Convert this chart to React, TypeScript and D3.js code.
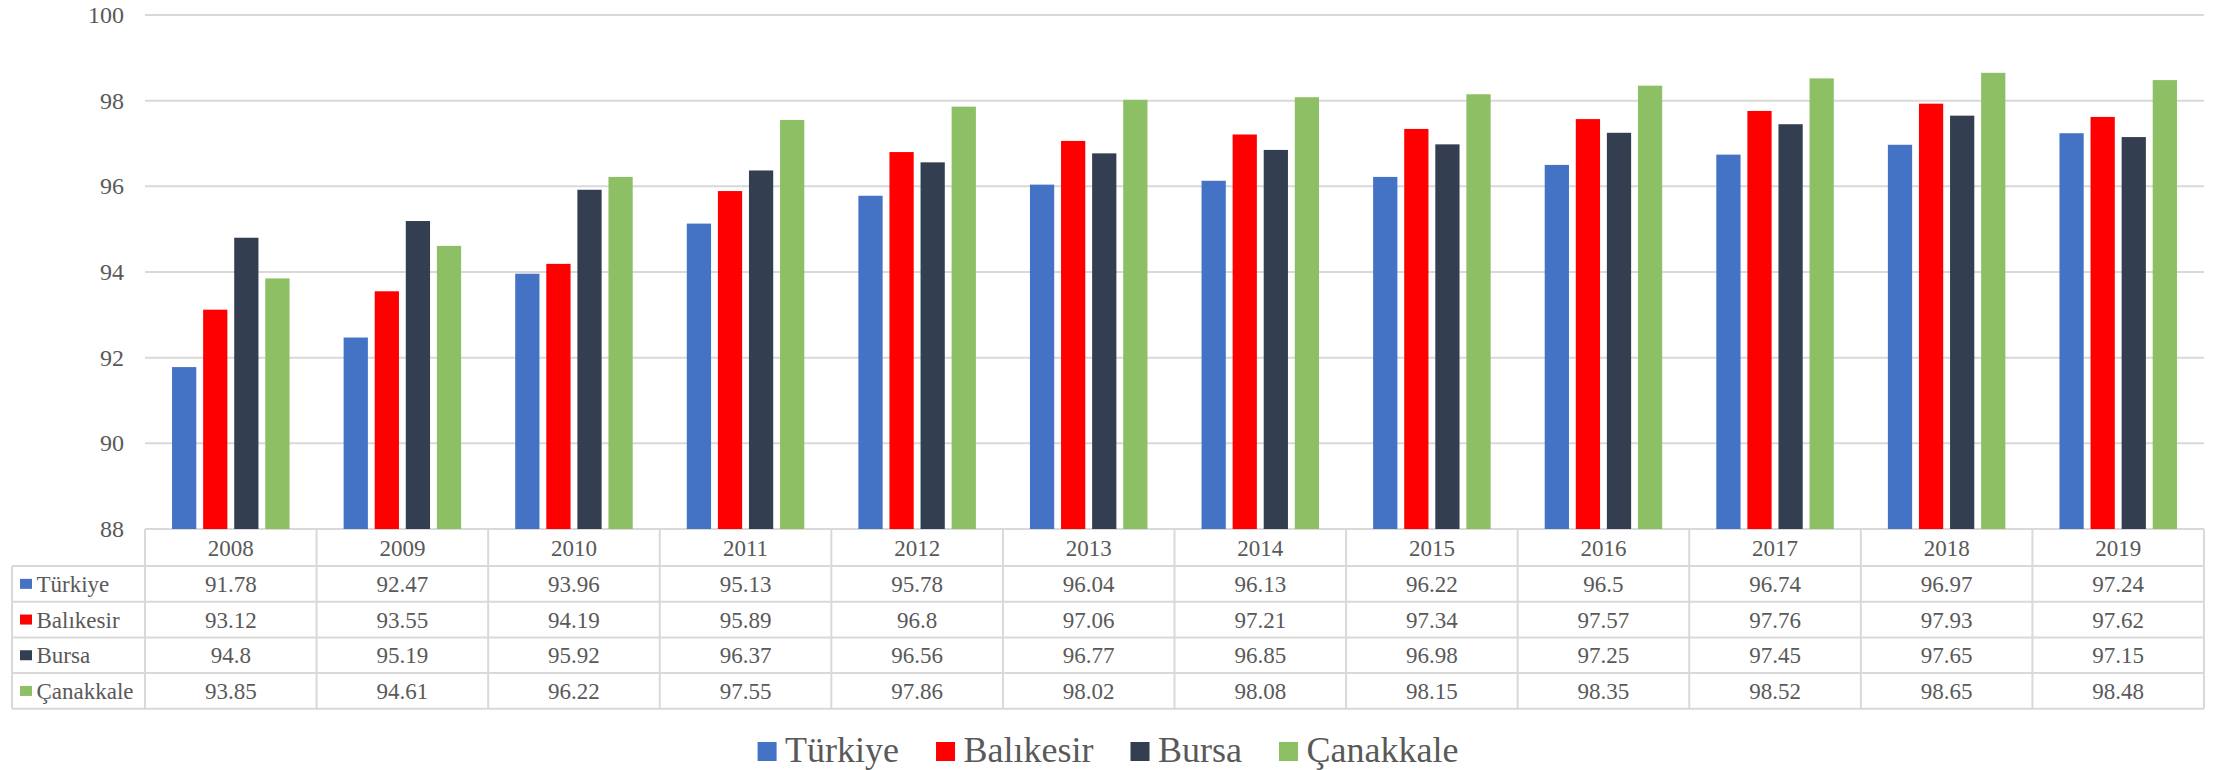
import React from "react";
import * as d3 from "d3";

const years = ["2008","2009","2010","2011","2012","2013","2014","2015","2016","2017","2018","2019"];
const seriesNames = ["Türkiye", "Balıkesir", "Bursa", "Çanakkale"];
const turkiye = [91.78, 92.47, 93.96, 95.13, 95.78, 96.04, 96.13, 96.22, 96.5, 96.74, 96.97, 97.24];
const balikesir = [93.12, 93.55, 94.19, 95.89, 96.8, 97.06, 97.21, 97.34, 97.57, 97.76, 97.93, 97.62];
const bursa = [94.8, 95.19, 95.92, 96.37, 96.56, 96.77, 96.85, 96.98, 97.25, 97.45, 97.65, 97.15];
const canakkale = [93.85, 94.61, 96.22, 97.55, 97.86, 98.02, 98.08, 98.15, 98.35, 98.52, 98.65, 98.48];
const yTicks = [88, 90, 92, 94, 96, 98, 100];
const colors = ["#4472C4", "#FF0000", "#333F50", "#8DBF65"];

const seriesValues = [turkiye, balikesir, bursa, canakkale];

const FONT = "Liberation Serif";
const TEXT = "#595959";
const GRID = "#d9d9d9";

function measure(text: string, size: number) {
  const c = document.createElement("canvas");
  const ctx = c.getContext("2d")!;
  ctx.font = `${size}px "Liberation Serif"`;
  return ctx.measureText(text).width;
}

export default function App() {
  const W = 2214, H = 770;
  const left = 145, right = 2204, top = 15, bottom = 529;
  const tableLeft = 12;
  const rowH = 35.7;
  const headerBottom = 566;

  const x = d3.scaleBand<string>().domain(years).range([left, right]).padding(0);
  const xi = d3.scaleBand<number>().domain([0, 1, 2, 3]).range([0, x.bandwidth()]).paddingInner(0.22).paddingOuter(0.87);
  const y = d3.scaleLinear().domain([88, 100]).range([bottom, top]);

  const rowYs = seriesNames.map((_, i) => headerBottom + i * rowH);
  const tableBottom = headerBottom + seriesNames.length * rowH;

  const legFont = 36;
  const sq = 19;
  const gapSqText = 8.5;
  const gapItems = 37;
  const widths = seriesNames.map((n) => measure(n, legFont));
  const itemW = widths.map((w) => sq + gapSqText + w);
  const totalW = d3.sum(itemW) + gapItems * (seriesNames.length - 1);
  let cursor = (tableLeft + right) / 2 - totalW / 2;
  const legendItems = seriesNames.map((n, i) => {
    const xs = cursor;
    cursor += itemW[i] + gapItems;
    return { n, xs, i };
  });

  return (
    <svg width={W} height={H} style={{ position: "absolute", left: 0, top: 0, background: "#fff" }}>
      <rect x={0} y={0} width={W} height={H} fill="#fff" />
      {yTicks.map((t) => (
        <line key={t} x1={left} x2={right} y1={y(t)} y2={y(t)} stroke={GRID} strokeWidth={2} />
      ))}
      {yTicks.map((t) => (
        <text key={"l" + t} x={124} y={y(t) + 8} textAnchor="end" fontSize={24} fontFamily={FONT} fill={TEXT}>{t}</text>
      ))}
      {seriesValues.map((vals, si) =>
        vals.map((v, yi) => (
          <rect
            key={si + "-" + yi}
            x={(x(years[yi]) as number) + (xi(si) as number)}
            y={y(v)}
            width={xi.bandwidth()}
            height={bottom - y(v)}
            fill={colors[si]}
          />
        ))
      )}
      {rowYs.concat([tableBottom]).map((ry, i) => (
        <line key={"h" + i} x1={tableLeft} x2={right} y1={ry} y2={ry} stroke={GRID} strokeWidth={2} />
      ))}
      <line x1={tableLeft} x2={tableLeft} y1={headerBottom} y2={tableBottom} stroke={GRID} strokeWidth={2} />
      {years.map((yr) => (
        <line key={"v" + yr} x1={x(yr)} x2={x(yr)} y1={bottom} y2={tableBottom} stroke={GRID} strokeWidth={2} />
      ))}
      <line x1={right} x2={right} y1={bottom} y2={tableBottom} stroke={GRID} strokeWidth={2} />
      {years.map((yr) => (
        <text key={"yr" + yr} x={(x(yr) as number) + x.bandwidth() / 2} y={(bottom + headerBottom) / 2 + 8} textAnchor="middle" fontSize={23} fontFamily={FONT} fill={TEXT}>{yr}</text>
      ))}
      {seriesNames.map((n, si) => (
        <g key={"row" + n}>
          <rect x={20} y={rowYs[si] + rowH / 2 - 5} width={12} height={10} fill={colors[si]} />
          <text x={36.5} y={rowYs[si] + rowH / 2 + 8} fontSize={23} fontFamily={FONT} fill={TEXT}>{n}</text>
          {seriesValues[si].map((v, yi) => (
            <text key={yi} x={(x(years[yi]) as number) + x.bandwidth() / 2} y={rowYs[si] + rowH / 2 + 8} textAnchor="middle" fontSize={23} fontFamily={FONT} fill={TEXT}>{String(v)}</text>
          ))}
        </g>
      ))}
      {legendItems.map(({ n, xs, i }) => (
        <g key={"lg" + n}>
          <rect x={xs} y={742} width={sq} height={sq} fill={colors[i]} />
          <text x={xs + sq + gapSqText} y={762} fontSize={legFont} fontFamily={FONT} fill={TEXT}>{n}</text>
        </g>
      ))}
    </svg>
  );
}
